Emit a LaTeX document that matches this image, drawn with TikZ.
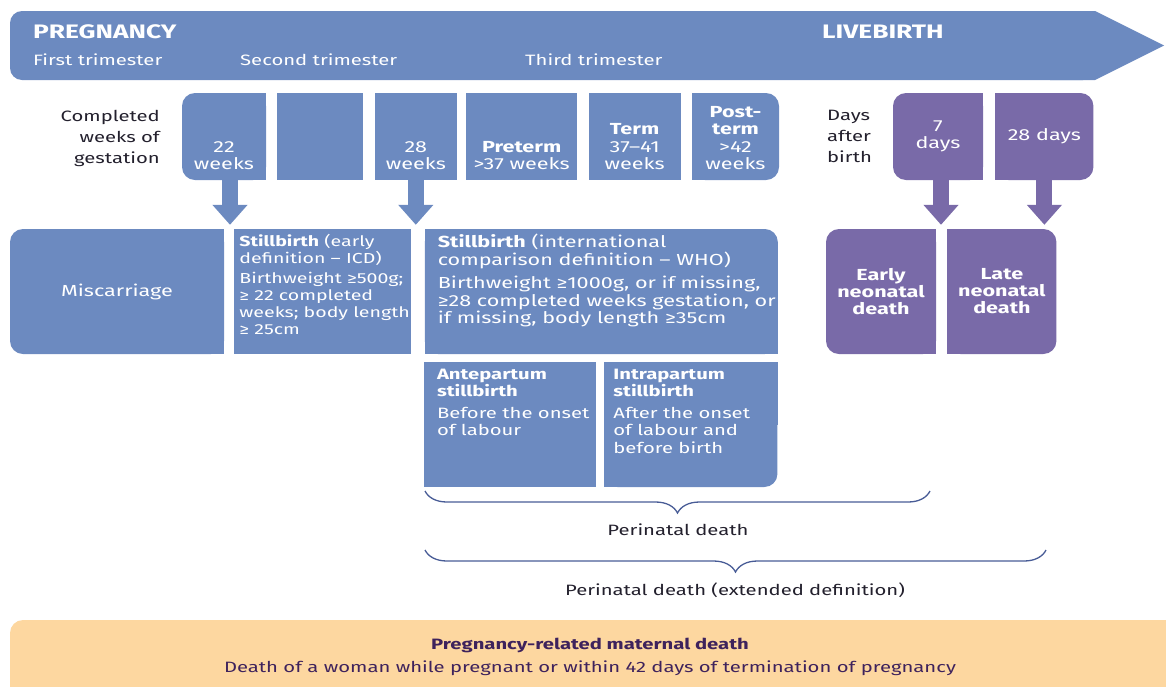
\documentclass[tikz,border=0pt]{standalone}
\usepackage{fontspec}
\setmainfont{Fira Sans}[FakeStretch=1.35]
\usetikzlibrary{positioning,backgrounds,arrows.meta,decorations.pathreplacing}
\definecolor{pblue}{RGB}{108,138,192}
\definecolor{ppurple}{RGB}{121,106,168}
\definecolor{peach}{RGB}{253,215,160}
\definecolor{inkdark}{RGB}{35,32,45}
\definecolor{inkpurple}{RGB}{62,34,92}
\definecolor{bracecol}{RGB}{72,92,150}

\tikzset{
  gbox/.style={fill=#1, inner sep=0pt, minimum height=87pt, text=white,
    align=center, font=\fontsize{16}{17}\selectfont},
  gbox/.default=pblue,
  tall/.style={minimum height=125pt},
  wtxt/.style={text=white, inner sep=0pt, font=\fontsize{16}{17.5}\selectfont},
  hd/.style={text=white, inner sep=0pt, font=\bfseries\fontsize{19.5}{22}\selectfont},
  tri/.style={text=white, inner sep=0pt, font=\fontsize{15}{18}\selectfont},
  side/.style={text=inkdark, inner sep=0pt, font=\fontsize{15}{21}\selectfont},
  barrow/.style={draw=#1, line width=16pt, shorten >=4pt,
    -{Triangle[width=34pt,length=20pt]}},
  brc/.style={draw=bracecol, line width=1.3pt, decorate,
    decoration={brace,mirror,amplitude=22pt}},
}

\begin{document}
\begin{tikzpicture}[x=1pt,y=-1pt]
  \useasboundingbox (0,0) rectangle (1166,686);

  % timeline banner
  \fill[pblue, rounded corners=12pt] (10,11) rectangle (1095,80);
  \fill[pblue] (1050,11) -- (1095,11) -- (1164,45.5) -- (1095,80) -- (1050,80) -- cycle;
  \node[hd, anchor=base west] (preg) at (33,38) {PREGNANCY};
  \node[hd, anchor=base west] (live) at (822,38) {LIVEBIRTH};
  \node[tri, anchor=base west] (tri1) at (33,65) {First trimester};
  \node[tri, anchor=base west] (tri2) at (240,65) {Second trimester};
  \node[tri, anchor=base west] (tri3) at (525,65) {Third trimester};

  % weeks of gestation
  \node[side, anchor=north east, align=right] (gest) at (160,110) {Completed\\weeks of\\gestation};
  \node[gbox, minimum width=84pt, rounded corners=13pt] (w22) at (224,136.5) {};
  \node[gbox, minimum width=86pt, right=11pt of w22] (wmid) {};
  \node[gbox, minimum width=82pt, right=11pt of wmid] (w28) {};
  \node[gbox, minimum width=111pt, right=9pt of w28] (wpre) {};
  \node[gbox, minimum width=92pt, right=11pt of wpre] (wterm) {};
  \node[gbox, minimum width=87pt, right=11pt of wterm, rounded corners=13pt] (wpost) {};

  \node[wtxt, align=center, anchor=south] (t22) at ([yshift=10pt]w22.south) {22\\weeks};
  \node[wtxt, align=center, anchor=south] (t28) at ([yshift=10pt]w28.south) {28\\weeks};
  \node[wtxt, align=center, anchor=south] (tpre) at ([yshift=10pt]wpre.south) {\textbf{Preterm}\\>37 weeks};
  \node[wtxt, align=center, anchor=south] (tterm) at ([yshift=10pt]wterm.south) {\textbf{Term}\\37--41\\weeks};
  \node[wtxt, align=center, anchor=south] (tpost) at ([yshift=10pt]wpost.south) {\textbf{Post-}\\\textbf{term}\\>42\\weeks};

  % days after birth
  \node[side, anchor=north west, align=left] (days) at (827,110) {Days\\after\\birth};
  \node[gbox=ppurple, minimum width=90pt, rounded corners=13pt] (d7) at (938,136.5) {7\\days};
  \node[gbox=ppurple, minimum width=98pt, right=12pt of d7, rounded corners=13pt] (d28) {28 days};

  % outcomes
  \node[gbox, tall, minimum width=214pt, rounded corners=13pt] (misc) at (117,291.5) {Miscarriage};
  \node[gbox, tall, minimum width=177pt, right=10pt of misc] (sbicd) {};
  \node[gbox, tall, minimum width=353pt, right=13pt of sbicd, rounded corners=13pt] (sbwho) {};
  \node[gbox=ppurple, tall, minimum width=110pt, rounded corners=13pt] (endnd) at (881,291.5) {\textbf{Early}\\\textbf{neonatal}\\\textbf{death}};
  \node[gbox=ppurple, tall, minimum width=109pt, right=11pt of endnd, rounded corners=13pt] (latend) {\textbf{Late}\\\textbf{neonatal}\\\textbf{death}};
  \node[gbox, tall, minimum width=172pt] (ante) at (510,424.5) {};
  \node[gbox, tall, minimum width=173pt, right=8pt of ante, rounded corners=13pt] (intra) {};

  \node[wtxt, anchor=north west, align=left, font=\fontsize{14.5}{17}\selectfont] (ticd) at ([shift={(5,5)}]sbicd.north west)
    {\textbf{Stillbirth} (early\\definition -- ICD)\\[3pt]Birthweight ≥500g;\\≥ 22 completed\\weeks; body length\\≥ 25cm};
  \node[wtxt, anchor=north west, align=left] (twho) at ([shift={(13,5)}]sbwho.north west)
    {\textbf{Stillbirth} (international\\comparison definition -- WHO)\\[6pt]Birthweight ≥1000g, or if missing,\\≥28 completed weeks gestation, or\\if missing, body length ≥35cm};
  \node[wtxt, anchor=north west, align=left, font=\fontsize{15}{17.5}\selectfont] (tante) at ([shift={(13,7)}]ante.north west)
    {\textbf{Antepartum}\\\textbf{stillbirth}\\[4pt]Before the onset\\of labour};
  \node[wtxt, anchor=north west, align=left, font=\fontsize{15}{17.5}\selectfont] (tintra) at ([shift={(9,7)}]intra.north west)
    {\textbf{Intrapartum}\\\textbf{stillbirth}\\[4pt]After the onset\\of labour and\\before birth};

  % square off the corners that are not rounded
  \begin{scope}[on background layer]
    \fill[pblue] (w22.north) rectangle (w22.south east);
    \fill[pblue] (wpost.north west) rectangle (wpost.south);
    \fill[ppurple] (d7.north) rectangle (d7.south east);
    \fill[ppurple] (d28.north west) rectangle (d28.south);
    \fill[pblue] (misc.north) rectangle (misc.south east);
    \fill[pblue] (sbwho.west) rectangle (sbwho.north);
    \fill[pblue] (sbwho.south west) rectangle (sbwho.east);
    \fill[ppurple] (endnd.north) rectangle (endnd.south east);
    \fill[ppurple] (latend.north west) rectangle (latend.south);
    \fill[pblue] (intra.north west) rectangle (intra.east);
    \fill[pblue] (intra.west) rectangle (intra.south);
  \end{scope}

  % block arrows
  \path (w22.south) ++(6,0) coordinate (a22);
  \path (w28.south) coordinate (a28);
  \path (d7.south) ++(3,0) coordinate (a7);
  \path (d28.south) coordinate (ad28);
  \draw[barrow=pblue] (a22) -- (a22 |- misc.north);
  \draw[barrow=pblue] (a28) -- (a28 |- sbwho.north);
  \draw[barrow=ppurple] (a7) -- (a7 |- endnd.north);
  \draw[barrow=ppurple] (ad28) -- (ad28 |- latend.north);

  % braces
  \coordinate (b1l) at (425,491);
  \coordinate (b1r) at (930,491);
  \coordinate (b2l) at (425,550);
  \coordinate (b2r) at (1046,550);
  \draw[brc] (b1l) -- (b1r);
  \draw[brc] (b2l) -- (b2r);
  \node[side] (peri) at (678,530) {Perinatal death};
  \node[side] (periext) at (735,590) {Perinatal death (extended definition)};

  % maternal death
  \fill[peach, rounded corners=13pt] (10,620) rectangle (1200,720);
  \node[text=inkpurple, font=\bfseries\fontsize{15}{18}\selectfont] (mat) at (590,645) {Pregnancy-related maternal death};
  \node[text=inkpurple, font=\fontsize{15}{18}\selectfont] (matdef) at (590,668) {Death of a woman while pregnant or within 42 days of termination of pregnancy};
\end{tikzpicture}
\end{document}
